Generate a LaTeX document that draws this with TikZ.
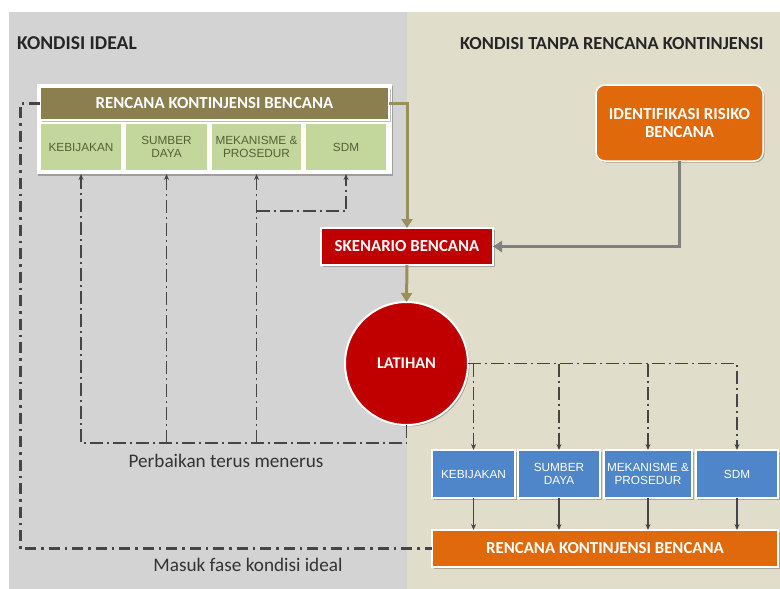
\documentclass[tikz,border=0pt]{standalone}
\usepackage{fontspec}
\setmainfont{Carlito}
\newfontfamily\arialf{Liberation Sans}
\usetikzlibrary{arrows.meta,calc,shadows}

\definecolor{panelgray}{HTML}{D3D3D3}
\definecolor{panelbeige}{HTML}{E0DDCA}
\definecolor{olivebar}{HTML}{8B7E4F}
\definecolor{olivelinec}{HTML}{9A8E5C}
\definecolor{greenfill}{HTML}{C3D69B}
\definecolor{greentext}{HTML}{55613A}
\definecolor{redfill}{HTML}{C00000}
\definecolor{orangefill}{HTML}{E0690B}
\definecolor{bluefill}{HTML}{4F86C9}
\definecolor{graylinec}{HTML}{808080}
\definecolor{ddcolor}{HTML}{454545}

\tikzset{
  shade box/.style={general shadow={fill=black, opacity=0.25, shadow xshift=1.5pt, shadow yshift=-1.5pt}},
  boldbox/.style={shade box, draw=white, line width=1.5pt, inner sep=0pt, outer sep=0pt, align=center,
    text=white, font=\fontsize{16.8}{18}\selectfont\bfseries},
  olivebox/.style={boldbox, fill=olivebar},
  redbox/.style={boldbox, fill=redfill},
  orangebox/.style={boldbox, fill=orangefill},
  greenbox/.style={draw=white, line width=1.5pt, fill=greenfill, inner sep=0pt, outer sep=0pt, align=center,
    text=greentext, minimum height=48, font=\arialf\fontsize{11.8}{13.5}\selectfont},
  bluebox/.style={shade box, draw=white, line width=1.5pt, fill=bluefill, inner sep=0pt, outer sep=0pt, align=center,
    text=white, minimum height=48, font=\arialf\fontsize{11.8}{13.5}\selectfont},
  titletext/.style={inner sep=0pt, font=\fontsize{19.6}{21}\selectfont\bfseries, text=black!85},
  notetext/.style={inner sep=0pt, font=\fontsize{19.2}{21}\selectfont, text=black!80},
  olivelink/.style={draw=olivelinec, line width=3pt, -{Triangle[length=9pt,width=11pt]}},
  graylink/.style={draw=graylinec, line width=3pt, -{Triangle[length=9pt,width=11pt]}},
  ddthin/.style={draw=ddcolor, line width=1.8pt, dash pattern=on 13pt off 4pt on 2pt off 4pt},
  ddthick/.style={draw=ddcolor, line width=3pt, dash pattern=on 11pt off 5pt on 2.5pt off 5pt},
  ddtip/.style={-{Stealth[length=6pt,width=5pt]}},
  solidlink/.style={draw=ddcolor, line width=1.8pt, -{Stealth[length=6pt,width=5pt]}}
}

\begin{document}
\begin{tikzpicture}[x=1pt,y=-1pt]
\useasboundingbox (0,0) rectangle (780,589);
\fill[white] (0,0) rectangle (780,589);
\fill[panelgray] (9,12) rectangle (407,589);
\fill[panelbeige] (407,12) rectangle (780,589);

% titles
\node[titletext, anchor=base west] (tl) at (17,49) {KONDISI IDEAL};
\node[titletext, anchor=base west, font=\fontsize{18.4}{20}\selectfont\bfseries] (tr) at (460,49) {KONDISI TANPA RENCANA KONTINJENSI};

% ideal plan group
\node[shade box, fill=white, minimum width=355, minimum height=90, inner sep=0pt, outer sep=0pt] (grp) at (214,129) {};
\node[olivebox, minimum width=349, minimum height=33] (rkb) at (214.5,103.5) {RENCANA KONTINJENSI BENCANA};
\node[greenbox, minimum width=82] (k1) at (81,147) {KEBIJAKAN};
\node[greenbox, minimum width=83] (k2) at (166.5,147) {SUMBER\\DAYA};
\node[greenbox, minimum width=91] (k3) at (256.5,147) {MEKANISME \&\\PROSEDUR};
\node[greenbox, minimum width=82] (k4) at (346,147) {SDM};

% right side boxes
\node[orangebox, rounded corners=9pt, minimum width=167, minimum height=76] (idr) at (679.5,123) {IDENTIFIKASI RISIKO\\BENCANA};
\node[redbox, minimum width=172, minimum height=37] (sk) at (407,246.5) {SKENARIO BENCANA};
\node[redbox, circle, minimum size=123, line width=2pt, font=\fontsize{16.3}{18}\selectfont\bfseries] (lat) at (406.5,363.5) {LATIHAN};

\node[bluebox, minimum width=83] (b1) at (473.5,474) {KEBIJAKAN};
\node[bluebox, minimum width=82] (b2) at (559,474) {SUMBER\\DAYA};
\node[bluebox, minimum width=88] (b3) at (648,474) {MEKANISME \&\\PROSEDUR};
\node[bluebox, minimum width=82] (b4) at (737,474) {SDM};
\node[orangebox, minimum width=346, minimum height=37] (rkb2) at (605,548.5) {RENCANA KONTINJENSI BENCANA};

% main flow
\draw[olivelink] (rkb.east) -| (sk.north);
\draw[graylink] (idr.south) |- (sk.east);
\draw[olivelink] (sk.south) -- (lat.north);

% continuous improvement loop
\path (lat.south) ++(0,18) coordinate (fb);
\draw[ddthin, ddtip] (lat.south) -- (fb) -| (k1.south |- grp.south);
\draw[ddthin, ddtip] (k2.south |- fb) -- (k2.south |- grp.south);
\draw[ddthin, ddtip] (k3.south |- fb) -- (k3.south |- grp.south);
\path (k3.south) ++(0,40) coordinate (sdmj);
\draw[ddthin, ddtip] (sdmj) -| (k4.south |- grp.south);

% exercise to components
\draw[ddthin, ddtip] (lat.east) -| (b4.north);
\draw[ddthin, ddtip] (b1.north |- lat.east) -- (b1.north);
\draw[ddthin, ddtip] (b2.north |- lat.east) -- (b2.north);
\draw[ddthin, ddtip] (b3.north |- lat.east) -- (b3.north);

\foreach \b in {b1,b2,b3,b4}
  \draw[solidlink] (\b.south) -- (\b.south |- rkb2.north);

% entering ideal phase
\draw[ddthick] (rkb.west) -- ++(-20,0) |- (rkb2.west);

% labels
\node[notetext] (lp) at (226,461) {Perbaikan terus menerus};
\node[notetext] (lm) at (248,565) {Masuk fase kondisi ideal};
\end{tikzpicture}
\end{document}
